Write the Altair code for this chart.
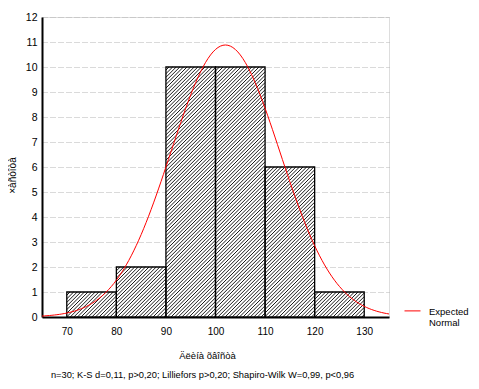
import altair as alt
import numpy as np
import pandas as pd

# ---- data ----
bin_start = [70, 80, 90, 100, 110, 120]
bin_end = [80, 90, 100, 110, 120, 130]
counts = [1, 2, 10, 10, 6, 1]
x_ticks = [70, 80, 90, 100, 110, 120, 130]
y_ticks = list(range(0, 13))
N = 30
MEAN = 102.0
SD = 11.0
BIN_WIDTH = 10
X_DOMAIN = [65, 135]
Y_DOMAIN = [0, 12]
series_name = "Expected Normal"
x_title = "Äëèíà õâîñòà"
y_title = "×àñòîòà"
footer = "n=30; K-S d=0,11, p>0,20; Lilliefors p>0,20; Shapiro-Wilk W=0,99, p<0,96"

FONT = "Liberation Sans, Arial, sans-serif"
W, H = 347, 300

bars = pd.DataFrame({"start": bin_start, "end": bin_end, "count": counts})

# expected normal curve (fitted: mean, sd, n, bin width)
xs = np.linspace(X_DOMAIN[0], X_DOMAIN[1], 141)
ys = N * BIN_WIDTH / (SD * np.sqrt(2 * np.pi)) * np.exp(-0.5 * ((xs - MEAN) / SD) ** 2)
curve = pd.DataFrame({"start": xs, "count": ys, "series": series_name})

# diagonal hatch inside each bar (decoration derived from the bars)
px_x = W / (X_DOMAIN[1] - X_DOMAIN[0])
px_y = H / (Y_DOMAIN[1] - Y_DOMAIN[0])
slope = px_x / px_y
step = 3.6 / px_x
cs = X_DOMAIN[0] - 80 + step * np.arange(0, int(160 / step))
rows = []
for s, e, h in zip(bin_start, bin_end, counts):
    for c in cs:
        xa = max(s, c)
        xb = min(e, c + h / slope)
        if xb > xa:
            rows.append({"start": xa, "end": xb, "count": slope * (xa - c), "count2": slope * (xb - c)})
hatch = pd.DataFrame(rows)

xscale = alt.Scale(domain=X_DOMAIN, nice=False, zero=False)
yscale = alt.Scale(domain=Y_DOMAIN, nice=False, zero=True)
xax = alt.Axis(values=x_ticks, title=x_title, ticks=False, labelPadding=9, labelFontSize=10,
               labelFont=FONT, titleFont=FONT, titleFontSize=9.5, titleFontWeight="normal",
               titlePadding=14, grid=False, domainColor="black", domainWidth=2,
               labelColor="black", titleColor="black", titleX=165)
yax = alt.Axis(values=y_ticks, title=y_title, ticks=False, labelPadding=5, labelFontSize=10.5,
               labelFont=FONT, titleFont=FONT, titleFontSize=10, titleFontWeight="normal",
               titlePadding=8, titleY=158, grid=True, gridColor="#b4b4b4",
               gridDash=[1, 1, 1, 1, 1, 3], gridWidth=1,
               domainColor="black", domainWidth=2, labelColor="black", titleColor="black")

base_fill = alt.Chart(bars).mark_rect(fill="white", stroke=None).encode(
    x=alt.X("start:Q", scale=xscale, axis=xax),
    x2="end:Q",
    y=alt.Y("count:Q", scale=yscale, axis=yax),
    y2=alt.datum(0),
)

hatch_layer = alt.Chart(hatch).mark_rule(color="black", strokeWidth=0.9).encode(
    x=alt.X("start:Q", scale=xscale, axis=xax),
    x2="end:Q",
    y=alt.Y("count:Q", scale=yscale, axis=yax),
    y2="count2:Q",
)

outline = alt.Chart(bars).mark_rect(fillOpacity=0, stroke="black", strokeWidth=1.3).encode(
    x=alt.X("start:Q", scale=xscale, axis=xax),
    x2="end:Q",
    y=alt.Y("count:Q", scale=yscale, axis=yax),
    y2=alt.datum(0),
)

line = alt.Chart(curve).mark_line(strokeWidth=1, clip=True).encode(
    x=alt.X("start:Q", scale=xscale, axis=xax),
    y=alt.Y("count:Q", scale=yscale, axis=yax),
    color=alt.Color("series:N", scale=alt.Scale(domain=[series_name], range=["#ff0000"]),
                    legend=alt.Legend(title=None, orient="none", legendX=362, legendY=281,
                                      symbolType="M-1,0.55H1", symbolSize=256, symbolStrokeWidth=1,
                                      labelExpr="['Expected', 'Normal']", labelFont=FONT,
                                      labelFontSize=9.5, labelColor="black", labelOffset=8,
                                      labelBaseline="top", labelLimit=120)),
)

chart = alt.layer(base_fill, hatch_layer, outline, line).properties(
    width=W, height=H,
    autosize=alt.AutoSizeParams(type="none"),
    padding={"left": 34, "top": 9, "right": 80, "bottom": 68},
    title=alt.TitleParams(footer, orient="bottom", anchor="middle", frame="group",
                          font=FONT, fontSize=9.3, fontWeight="normal", color="black",
                          offset=11, dx=-13),
).configure_view(stroke="black", strokeWidth=1.5).configure(background="white")

chart.save("out.html", embed_options={"renderer": "svg", "actions": False})
